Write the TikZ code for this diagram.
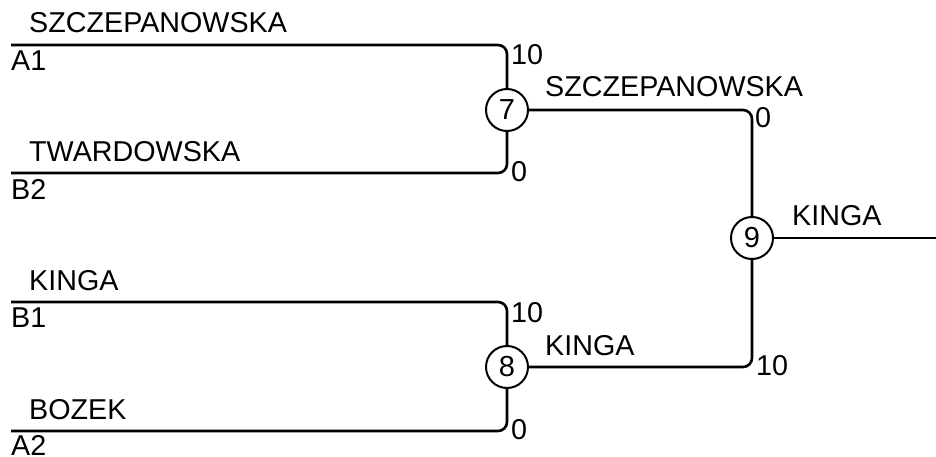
\documentclass[tikz,border=0pt]{standalone}
\usepackage{fontspec}
\setmainfont{Liberation Sans}
\begin{document}
\begin{tikzpicture}[x=1pt,y=-1pt,
  wire/.style={line width=2.6pt,rounded corners=9pt},
  match/.style={circle,draw,line width=2pt,minimum size=42pt,inner sep=0pt,font=\fontsize{29}{31}\selectfont},
  lbl/.style={anchor=base west,inner sep=0pt,font=\fontsize{28.7}{31}\selectfont}]
\useasboundingbox (0,0) rectangle (936,457);
% match nodes
\node[match] (m7) at (507,110) {7};
\node[match] (m8) at (507,367) {8};
\node[match] (m9) at (752,238) {9};
% line starts
\coordinate (s1) at (11,45);
\coordinate (s2) at (11,173);
\coordinate (s3) at (11,302);
\coordinate (s4) at (11,431);
\coordinate (out) at (936,238);
% wires
\draw[wire] (s1) -| (m7);
\draw[wire] (s2) -| (m7);
\draw[wire] (s3) -| (m8);
\draw[wire] (s4) -| (m8);
\draw[wire] (m7) -| (m9);
\draw[wire] (m8) -| (m9);
\draw[wire] (m9) -- (out);
% names
\node[lbl] (n1) at (29,33) {SZCZEPANOWSKA};
\node[lbl] (n2) at (29,161) {TWARDOWSKA};
\node[lbl] (n3) at (29,290) {KINGA};
\node[lbl] (n4) at (29,419) {BOZEK};
\node[lbl] (w7) at (545,97) {SZCZEPANOWSKA};
\node[lbl] (w8) at (545,355) {KINGA};
\node[lbl] (w9) at (792,225) {KINGA};
% seeds
\node[lbl] (c1) at (11,71) {A1};
\node[lbl] (c2) at (11,199) {B2};
\node[lbl] (c3) at (11,327) {B1};
\node[lbl] (c4) at (11,455) {A2};
% scores
\node[lbl] (r1) at (511,65) {10};
\node[lbl] (r2) at (511,182) {0};
\node[lbl] (r3) at (511,322) {10};
\node[lbl] (r4) at (511,439) {0};
\node[lbl] (r5) at (755,128) {0};
\node[lbl] (r6) at (756,375) {10};
\end{tikzpicture}
\end{document}
